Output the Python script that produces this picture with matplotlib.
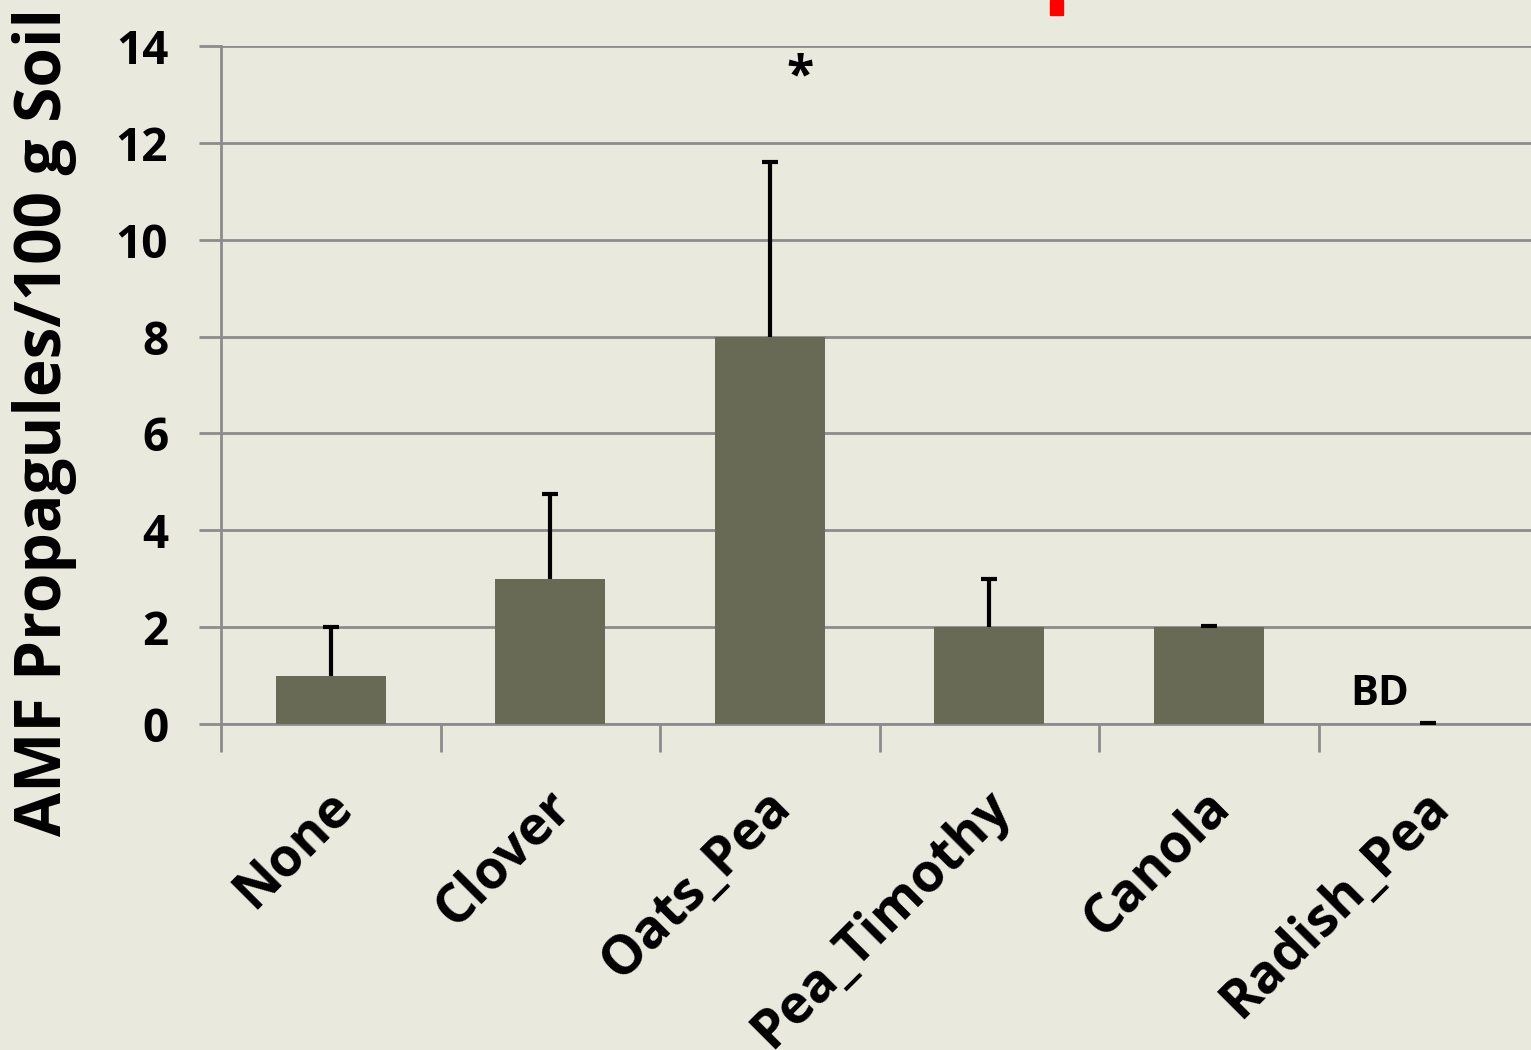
import matplotlib
matplotlib.use("Agg")
import matplotlib.pyplot as plt
import matplotlib.transforms as mtrans
import numpy as np

categories = ["None", "Clover", "Oats_Pea", "Pea_Timothy", "Canola", "Radish_Pea"]
means = [1, 3, 8, 2, 2, 0]
errors = [1, 1.75, 3.6, 1, 0.02, 0.02]
yticks = [0, 2, 4, 6, 8, 10, 12, 14]

bg = "#E9E9DE"
plt.rcParams['font.family'] = ['Open Sans', 'DejaVu Sans']

fig = plt.figure(figsize=(15.31, 10.5), dpi=100, facecolor=bg)
ax = fig.add_axes([221/1531, 1 - 724/1050, (1538-221)/1531, (724-46)/1050], facecolor=bg)

x = np.arange(len(categories))
ax.bar(x, means, width=0.5, color="#686A55", zorder=3)
eb = ax.errorbar(x, means, yerr=[np.zeros(len(means)), errors], fmt="none",
                 ecolor="black", elinewidth=3, capsize=6, capthick=3, zorder=4)
eb[1][0].set_visible(False)  # no lower caps

ax.set_xlim(-0.5, len(categories) - 0.5)
ax.set_ylim(0, 14)
ax.set_yticks(yticks)
ax.set_yticklabels([str(v) for v in yticks], fontsize=33, fontweight='bold')
ax.yaxis.grid(True, color="#8C8C8C", linewidth=2, zorder=0)
ax.tick_params(axis='y', length=16, width=2, color="#8C8C8C", pad=22)

ax.set_xticks(x)
ax.set_xticklabels(categories, rotation=45, ha='right', va='top', rotation_mode='anchor',
                   fontsize=38.5, fontweight='bold')
ax.set_xticks(np.arange(-0.5, len(categories)), minor=True)
ax.tick_params(axis='x', which='major', length=0, pad=40)
ax.tick_params(axis='x', which='minor', length=20, width=2, color="#8C8C8C")
off = mtrans.ScaledTranslation(-0.06, 0, fig.dpi_scale_trans)
for lbl in ax.get_xticklabels():
    lbl.set_transform(lbl.get_transform() + off)

for s in ["top", "right"]:
    ax.spines[s].set_visible(False)
for s in ["left", "bottom"]:
    ax.spines[s].set_color("#8C8C8C")
    ax.spines[s].set_linewidth(2)

fig.text(45/1531, 1 - 422/1050, "AMF Propagules/100 g Soil", rotation=90,
         fontsize=46, fontweight='bold', ha='center', va='center')

ax.text(2.14, 13.35, "*", fontsize=36, fontweight='bold', ha='center', va='center')
ax.text(4.78, 0.6, "BD", fontsize=30, fontweight='bold', ha='center', va='center')

# red marker at top edge
fig.patches.append(plt.Rectangle((1050/1531, 1 - 15/1050), 13/1531, 15/1050,
                                 transform=fig.transFigure, color="red", figure=fig))

fig.savefig("out.png", dpi=100, facecolor=bg)
